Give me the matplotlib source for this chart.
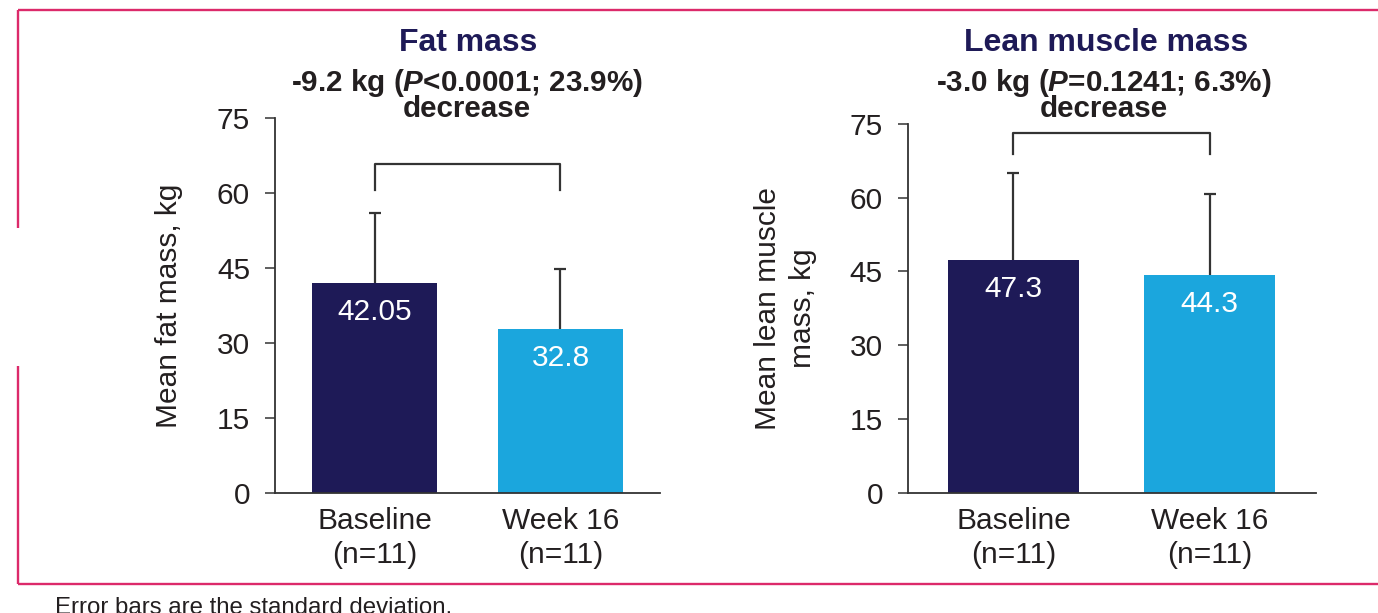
import matplotlib
matplotlib.use("Agg")
import matplotlib.pyplot as plt
from matplotlib.lines import Line2D

# ---- data ----
categories = ["Baseline\n(n=11)", "Week 16\n(n=11)"]
fat_means = [42.05, 32.8]
fat_sd = [13.9, 11.9]
fat_labels = ["42.05", "32.8"]
lean_means = [47.3, 44.3]
lean_sd = [17.7, 16.5]
lean_labels = ["47.3", "44.3"]
yticks = [0, 15, 30, 45, 60, 75]

# ---- style ----
NAVY = "#1e1a57"
BLUE = "#1ba6dd"
TXT = "#231f20"
AX = "#333333"
FRAME = "#dc2a6a"
FONT = "Liberation Sans"
FS = 21.5

plt.rcParams["font.family"] = FONT
plt.rcParams["mathtext.fontset"] = "custom"
plt.rcParams["mathtext.it"] = "Liberation Sans:italic:bold"
plt.rcParams["mathtext.rm"] = "Liberation Sans:bold"

W, H = 1378, 613
fig = plt.figure(figsize=(W / 100, H / 100), dpi=100)


def fx(px):
    return px / W


def fy(py):
    return (H - py) / H


def make_axes(left, right, top, bottom):
    return fig.add_axes([fx(left), fy(bottom), fx(right) - fx(left), fy(top) - fy(bottom)])


def draw_panel(ax, means, sds, labels, xlim, bracket_top, bracket_low, ylabel, ylabel_x):
    x = [0, 1]
    tops = [m + s for m, s in zip(means, sds)]
    ax.bar(x, means, width=0.67, color=[NAVY, BLUE], zorder=2)
    ax.vlines(x, means, tops, color=AX, lw=1.6, zorder=1)
    ax.plot(x, tops, ls="none", marker="_", markersize=8, mew=1.6, color=AX, zorder=1)
    for xi, m, lab in zip(x, means, labels):
        ax.annotate(lab, (xi, m), xytext=(0, -21), textcoords="offset points",
                    ha="center", va="center", color="white", fontsize=FS, zorder=3)
    ax.plot([0, 0, 1, 1], [bracket_low, bracket_top, bracket_top, bracket_low],
            color=AX, lw=1.6, clip_on=False)
    ax.set_xlim(*xlim)
    ax.set_ylim(0, 75)
    ax.set_yticks(yticks)
    ax.set_xticks(x)
    ax.set_xticklabels(categories, linespacing=1.3)
    for s in ["top", "right"]:
        ax.spines[s].set_visible(False)
    for s in ["left", "bottom"]:
        ax.spines[s].set_color(AX)
        ax.spines[s].set_linewidth(1.3)
    ax.tick_params(axis="y", length=7, width=1.1, color=AX, pad=11,
                   labelsize=FS, labelcolor=TXT)
    ax.tick_params(axis="x", length=0, pad=10, labelsize=FS, labelcolor=TXT)
    ax.text(ylabel_x, 0.5, ylabel, transform=ax.transAxes, rotation=90,
            ha="center", va="center", multialignment="center",
            fontsize=FS, color=TXT, linespacing=1.3)


ax1 = make_axes(275, 660, 118, 492.7)
draw_panel(ax1, fat_means, fat_sd, fat_labels, (-0.535, 1.535), 65.8, 60.6,
           "Mean fat mass, kg", -0.275)

ax2 = make_axes(908, 1316, 124, 492.7)
draw_panel(ax2, lean_means, lean_sd, lean_labels, (-0.538, 1.543), 73.2, 68.8,
           "Mean lean muscle\nmass, kg", -0.30)

# titles
fig.text(fx(468), fy(51), "Fat mass", ha="center", va="baseline",
         fontsize=23, fontweight="bold", color=NAVY)
fig.text(fx(467), fy(95), "-9.2 kg ($P$<0.0001; 23.9%)\ndecrease", ha="center",
         va="center", multialignment="center", linespacing=0.86,
         fontsize=21.3, fontweight="bold", color=TXT)

fig.text(fx(1106), fy(51), "Lean muscle mass", ha="center", va="baseline",
         fontsize=23, fontweight="bold", color=NAVY)
fig.text(fx(1104), fy(95), "-3.0 kg ($P$=0.1241; 6.3%)\ndecrease", ha="center",
         va="center", multialignment="center", linespacing=0.86,
         fontsize=21.3, fontweight="bold", color=TXT)

# frame
for xs, ys in [([18, W], [10, 10]), ([18, 18], [10, 228]), ([18, 18], [366, 584]),
               ([18, W], [584, 584])]:
    fig.add_artist(Line2D([fx(v) for v in xs], [fy(v) for v in ys],
                          color=FRAME, lw=1.7, solid_capstyle="butt"))

# footnote (cut off by the bottom edge, as in the reference)
fig.text(fx(55), fy(614), "Error bars are the standard deviation.", ha="left",
         va="baseline", fontsize=17.3, color=TXT)

fig.savefig("out.png", dpi=100)
